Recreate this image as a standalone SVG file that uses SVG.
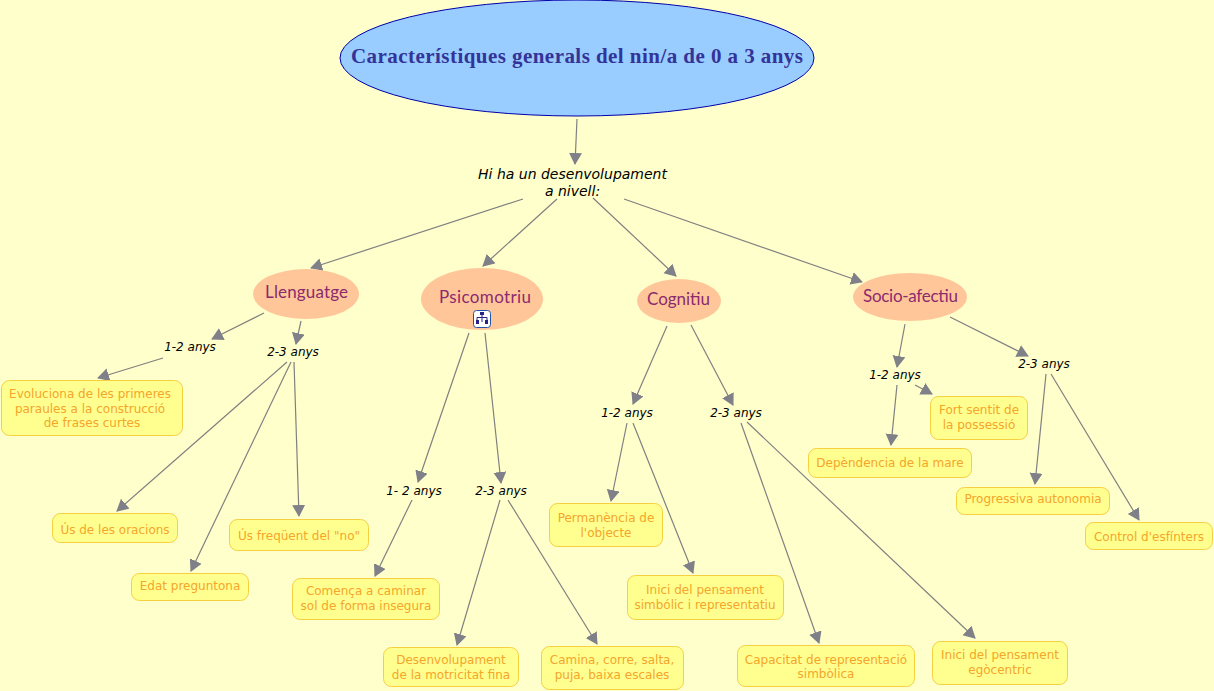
<svg xmlns="http://www.w3.org/2000/svg" width="1214" height="691" viewBox="0 0 1214 691">
<style>
.c{fill:none;stroke:#808080;stroke-width:1.2;marker-end:url(#a)}
.l{font-family:"DejaVu Sans",Verdana,sans-serif;font-style:italic;font-size:12px;fill:#000;text-anchor:middle}
.b{fill:#ffff8f;stroke:#f5d040;stroke-width:1}
.t{font-family:"DejaVu Sans",Verdana,sans-serif;font-size:12px;fill:#f5a52a;text-anchor:middle}
.o{fill:#ffc799;stroke:none}
.h{font-family:Lato,"Open Sans",sans-serif;font-size:17px;fill:#8b2a6e;text-anchor:middle}
</style>
<defs><marker id="a" markerUnits="userSpaceOnUse" markerWidth="14" markerHeight="14" refX="11" refY="6.500" orient="auto"><path d="M0 0L12 6.500L0 13Z" fill="#7f8088"/></marker></defs>
<rect width="1214" height="691" fill="#ffffcc"/>
<g id="connectors">
<path class="c" d="M577 119L575 164"/>
<path class="c" d="M523 199L311 268"/>
<path class="c" d="M557 199L483 266"/>
<path class="c" d="M593 198L676 276"/>
<path class="c" d="M624 199L862 282"/>
<path class="c" d="M264 313L212 339"/>
<path class="c" d="M301 321L296 344"/>
<path class="c" d="M163 358L98 378"/>
<path class="c" d="M287 362L117 511"/>
<path class="c" d="M291 362L191 571"/>
<path class="c" d="M294 362L299 516"/>
<path class="c" d="M469 333L418 482"/>
<path class="c" d="M485 333L501 483"/>
<path class="c" d="M412 500L375 576"/>
<path class="c" d="M500 500L457 645"/>
<path class="c" d="M508 500L597 644"/>
<path class="c" d="M667 326L633 404"/>
<path class="c" d="M691 325L733 405"/>
<path class="c" d="M627 423L611 501"/>
<path class="c" d="M633 423L693 573"/>
<path class="c" d="M741 423L819 643"/>
<path class="c" d="M747 422L975 638"/>
<path class="c" d="M905 324L897 367"/>
<path class="c" d="M950 317L1028 356"/>
<path class="c" d="M897 385L891 445"/>
<path class="c" d="M915 385L932 394"/>
<path class="c" d="M1046 374L1035 484"/>
<path class="c" d="M1051 374L1139 520"/>
</g>
<g id="root"><ellipse cx="577" cy="58" rx="237" ry="58" fill="#99ccff" stroke="#0000aa" stroke-width="1"/>
<text x="577" y="63" font-family="'Liberation Serif',serif" font-weight="bold" font-size="21px" fill="#333399" text-anchor="middle" textLength="452">Característiques generals del nin/a de 0 a 3 anys</text></g>
<g id="intro"><text x="572.500" y="179" font-family="'DejaVu Sans',sans-serif" font-style="italic" font-size="14px" text-anchor="middle">Hi ha un desenvolupament</text><text x="572.500" y="196" font-family="'DejaVu Sans',sans-serif" font-style="italic" font-size="14px" text-anchor="middle">a nivell:</text></g>
<g id="llenguatge"><ellipse class="o" cx="306" cy="294" rx="53" ry="25"/><text class="h" x="306.500" y="298" textLength="83">Llenguatge</text></g>
<g id="psicomotriu"><ellipse class="o" cx="482" cy="299" rx="61" ry="31"/><text class="h" x="485" y="303" textLength="92">Psicomotriu</text>
<rect x="473.500" y="310.500" width="17" height="17" rx="3" fill="#fff" stroke="#2255aa"/><path d="M482 313v3M477 319v-1.500h10v1.500M482 316v6M477 319v3M487 319v3" fill="none" stroke="#222288"/><rect x="480" y="312" width="4" height="3" fill="#222288"/><rect x="476" y="320" width="3" height="4" fill="#222288"/><rect x="485" y="320" width="3" height="4" fill="#222288"/></g>
<g id="cognitiu"><ellipse class="o" cx="679" cy="301" rx="42" ry="22"/><text class="h" x="678.500" y="305" textLength="63">Cognitiu</text></g>
<g id="socio"><ellipse class="o" cx="910" cy="297" rx="57" ry="24"/><text class="h" x="910.500" y="302" textLength="95">Socio-afectiu</text></g>
<g id="l1"><text class="l" x="190" y="351">1-2 anys</text></g>
<g id="l2"><text class="l" x="293" y="356">2-3 anys</text></g>
<g id="l3"><text class="l" x="414" y="495">1- 2 anys</text></g>
<g id="l4"><text class="l" x="501" y="495">2-3 anys</text></g>
<g id="l5"><text class="l" x="627" y="417">1-2 anys</text></g>
<g id="l6"><text class="l" x="736" y="417">2-3 anys</text></g>
<g id="l7"><text class="l" x="895" y="379">1-2 anys</text></g>
<g id="l8"><text class="l" x="1044" y="368">2-3 anys</text></g>
<g id="n1"><rect class="b" x="1.500" y="380.500" width="181" height="55" rx="8"/><text class="t" x="90" y="398">Evoluciona de les primeres</text><text class="t" x="90" y="413">paraules a la construcció</text><text class="t" x="92" y="427">de frases curtes</text></g>
<g id="n2"><rect class="b" x="52.500" y="513.500" width="125" height="29" rx="8"/><text class="t" x="115" y="534">Ús de les oracions</text></g>
<g id="n3"><rect class="b" x="131.500" y="573.500" width="117" height="27" rx="8"/><text class="t" x="190" y="590">Edat preguntona</text></g>
<g id="n4"><rect class="b" x="229.500" y="519.500" width="139" height="31" rx="8"/><text class="t" x="299" y="540">Ús freqüent del "no"</text></g>
<g id="n5"><rect class="b" x="292.500" y="578.500" width="147" height="41" rx="8"/><text class="t" x="366" y="595">Comença a caminar</text><text class="t" x="366" y="610">sol de forma insegura</text></g>
<g id="n6"><rect class="b" x="383.500" y="647.500" width="135" height="39" rx="8"/><text class="t" x="451" y="664">Desenvolupament</text><text class="t" x="451" y="679">de la motricitat fina</text></g>
<g id="n7"><rect class="b" x="541.500" y="646.500" width="142" height="43" rx="8"/><text class="t" x="612" y="664">Camina, corre, salta,</text><text class="t" x="612" y="679">puja, baixa escales</text></g>
<g id="n8"><rect class="b" x="549.500" y="503.500" width="113" height="43" rx="8"/><text class="t" x="606" y="522">Permanència de</text><text class="t" x="606" y="537">l'objecte</text></g>
<g id="n9"><rect class="b" x="627.500" y="575.500" width="156" height="44" rx="8"/><text class="t" x="705" y="594">Inici del pensament</text><text class="t" x="705" y="609">simbólic i representatiu</text></g>
<g id="n10"><rect class="b" x="737.500" y="645.500" width="177" height="41" rx="8"/><text class="t" x="826" y="664">Capacitat de representació</text><text class="t" x="826" y="678">simbòlica</text></g>
<g id="n11"><rect class="b" x="932.500" y="641.500" width="135" height="43" rx="8"/><text class="t" x="1000" y="659">Inici del pensament</text><text class="t" x="1000" y="674">egòcentric</text></g>
<g id="n12"><rect class="b" x="930.500" y="396.500" width="97" height="43" rx="8"/><text class="t" x="979" y="414">Fort sentit de</text><text class="t" x="979" y="429">la possessió</text></g>
<g id="n13"><rect class="b" x="808.500" y="448.500" width="163" height="29" rx="8"/><text class="t" x="890" y="467">Depèndencia de la mare</text></g>
<g id="n14"><rect class="b" x="956.500" y="487.500" width="153" height="27" rx="8"/><text class="t" x="1033" y="503">Progressiva autonomia</text></g>
<g id="n15"><rect class="b" x="1085.500" y="522.500" width="127" height="27" rx="8"/><text class="t" x="1149" y="541">Control d'esfínters</text></g>
</svg>
